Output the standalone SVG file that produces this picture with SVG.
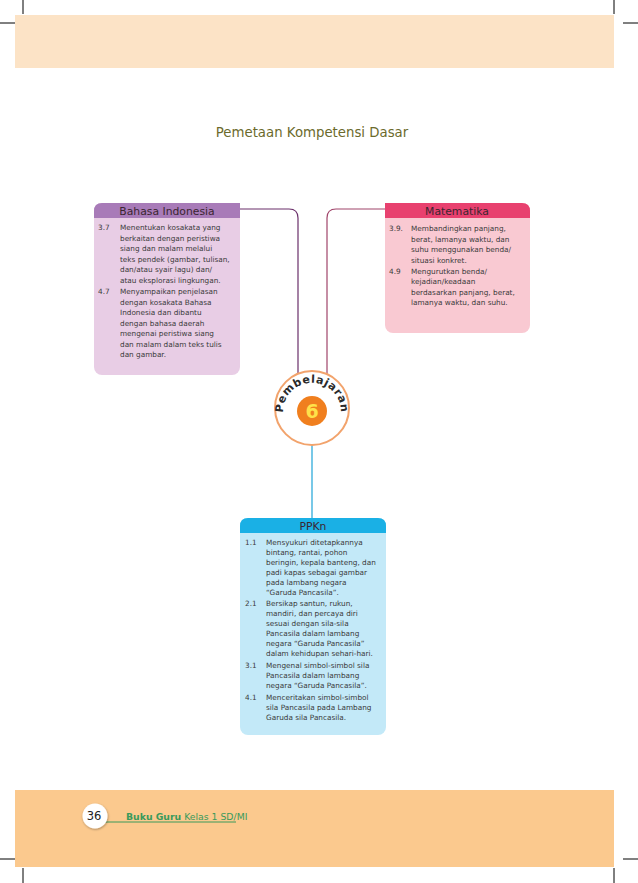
<svg xmlns="http://www.w3.org/2000/svg" width="638" height="883" viewBox="0 0 638 883">
<defs>
<style>
.t{font-family:"DejaVu Sans",sans-serif;font-size:7.3px;fill:#3a3a3a}
.h{font-family:"DejaVu Sans",sans-serif;font-size:10.8px;fill:#3a2530;text-anchor:middle}
.crop{stroke:#000;stroke-width:1}
.conn{fill:none;stroke-width:1.2}
</style>
<filter id="sh" x="-30%" y="-30%" width="160%" height="160%"><feDropShadow dx="0.5" dy="1" stdDeviation="1.2" flood-color="#000" flood-opacity="0.35"/></filter>
<path id="arc" d="M 284.5,421 A 29 29 0 1 1 339.5,421"/>
</defs>
<rect width="638" height="883" fill="#fff"/>
<rect x="15" y="15" width="599" height="53" fill="#fce3c6"/>
<rect x="15" y="790" width="599" height="77" fill="#fbc98e"/>
<g id="crops">
<line class="crop" x1="23" y1="0" x2="23" y2="14"/>
<line class="crop" x1="0" y1="23" x2="15" y2="23"/>
<line class="crop" x1="614" y1="0" x2="614" y2="14"/>
<line class="crop" x1="623" y1="23" x2="638" y2="23"/>
<line class="crop" x1="0" y1="859" x2="15" y2="859"/>
<line class="crop" x1="23" y1="868" x2="23" y2="883"/>
<line class="crop" x1="623" y1="859" x2="638" y2="859"/>
<line class="crop" x1="614" y1="868" x2="614" y2="883"/>
</g>
<text x="312" y="137" font-family="'DejaVu Sans',sans-serif" font-size="13.3" fill="#6b6a2c" text-anchor="middle">Pemetaan Kompetensi Dasar</text>
<g id="connectors">
<path class="conn" stroke="#6a2f6a" d="M 240,209 H 289 Q 298,209 298,218 V 375"/>
<path class="conn" stroke="#a0446a" d="M 385,209 H 336 Q 327,209 327,218 V 375"/>
<path class="conn" stroke="#1ea4d8" d="M 312,445 V 518"/>
</g>
<g id="bahasa">
<rect x="94" y="203" width="146" height="172" rx="8" fill="#e8cde5"/>
<path d="M 102,203 H 240 V 218 H 94 V 211 Q 94,203 102,203 Z" fill="#a87bb8"/>
<text class="h" x="167" y="215">Bahasa Indonesia</text>
<g class="t">
<text x="98" y="230">3.7</text>
<text x="120" y="230">Menentukan kosakata yang</text>
<text x="120" y="240.5">berkaitan dengan peristiwa</text>
<text x="120" y="251">siang dan malam melalui</text>
<text x="120" y="261.5">teks pendek (gambar, tulisan,</text>
<text x="120" y="272">dan/atau syair lagu) dan/</text>
<text x="120" y="282.5">atau eksplorasi lingkungan.</text>
<text x="98" y="294">4.7</text>
<text x="120" y="294">Menyampaikan penjelasan</text>
<text x="120" y="304.5">dengan kosakata Bahasa</text>
<text x="120" y="315">Indonesia dan dibantu</text>
<text x="120" y="325.5">dengan bahasa daerah</text>
<text x="120" y="336">mengenai peristiwa siang</text>
<text x="120" y="346.5">dan malam dalam teks tulis</text>
<text x="120" y="357">dan gambar.</text>
</g>
</g>
<g id="matematika">
<rect x="385" y="203" width="145" height="130" rx="8" fill="#f9c9d2"/>
<path d="M 385,203 H 522 Q 530,203 530,211 V 218 H 385 Z" fill="#e8416f"/>
<text class="h" x="457" y="215">Matematika</text>
<g class="t">
<text x="389" y="231">3.9.</text>
<text x="411" y="231">Membandingkan panjang,</text>
<text x="411" y="241.5">berat, lamanya waktu, dan</text>
<text x="411" y="252">suhu menggunakan benda/</text>
<text x="411" y="262.5">situasi konkret.</text>
<text x="389" y="273.5">4.9</text>
<text x="411" y="273.5">Mengurutkan benda/</text>
<text x="411" y="284">kejadian/keadaan</text>
<text x="411" y="294.5">berdasarkan panjang, berat,</text>
<text x="411" y="305">lamanya waktu, dan suhu.</text>
</g>
</g>
<g id="pembelajaran">
<circle cx="312" cy="408" r="37" fill="#fff" stroke="#f2a36c" stroke-width="2"/>
<circle cx="312" cy="411" r="15" fill="#f07f1e"/>
<text x="312" y="418" font-family="'DejaVu Sans',sans-serif" font-size="19" font-weight="bold" fill="#ffe24a" text-anchor="middle">6</text>
<text font-family="'DejaVu Sans',sans-serif" font-size="11" font-weight="bold" fill="#2a2a2a" letter-spacing="0.6"><textPath href="#arc" startOffset="50%" text-anchor="middle">Pembelajaran</textPath></text>
</g>
<g id="ppkn">
<rect x="240" y="518" width="146" height="217" rx="8" fill="#c3e9f8"/>
<path d="M 248,518 H 378 Q 386,518 386,526 V 533 H 240 V 526 Q 240,518 248,518 Z" fill="#1ab0e5"/>
<text class="h" x="313" y="530">PPKn</text>
<g class="t">
<text x="245" y="545">1.1</text>
<text x="266" y="545">Mensyukuri ditetapkannya</text>
<text x="266" y="555">bintang, rantai, pohon</text>
<text x="266" y="565">beringin, kepala banteng, dan</text>
<text x="266" y="575">padi kapas sebagai gambar</text>
<text x="266" y="585">pada lambang negara</text>
<text x="266" y="595">“Garuda Pancasila”.</text>
<text x="245" y="606">2.1</text>
<text x="266" y="606">Bersikap santun, rukun,</text>
<text x="266" y="616">mandiri, dan percaya diri</text>
<text x="266" y="626">sesuai dengan sila-sila</text>
<text x="266" y="636">Pancasila dalam lambang</text>
<text x="266" y="646">negara “Garuda Pancasila”</text>
<text x="266" y="656">dalam kehidupan sehari-hari.</text>
<text x="245" y="668">3.1</text>
<text x="266" y="668">Mengenal simbol-simbol sila</text>
<text x="266" y="678">Pancasila dalam lambang</text>
<text x="266" y="688">negara “Garuda Pancasila”.</text>
<text x="245" y="700">4.1</text>
<text x="266" y="700">Menceritakan simbol-simbol</text>
<text x="266" y="710">sila Pancasila pada Lambang</text>
<text x="266" y="720">Garuda sila Pancasila.</text>
</g>
</g>
<g id="footer">
<line x1="104" y1="822" x2="236" y2="822" stroke="#3a9a5b" stroke-width="1"/>
<circle cx="95" cy="816" r="12.5" fill="#fff" filter="url(#sh)"/>
<text x="94" y="820" font-family="'DejaVu Sans',sans-serif" font-size="11.5" fill="#222" text-anchor="middle">36</text>
<text x="126" y="820" font-family="'DejaVu Sans',sans-serif" font-size="9.3" fill="#3a9a5b"><tspan font-weight="bold">Buku Guru</tspan> Kelas 1 SD/MI</text>
</g>
</svg>
